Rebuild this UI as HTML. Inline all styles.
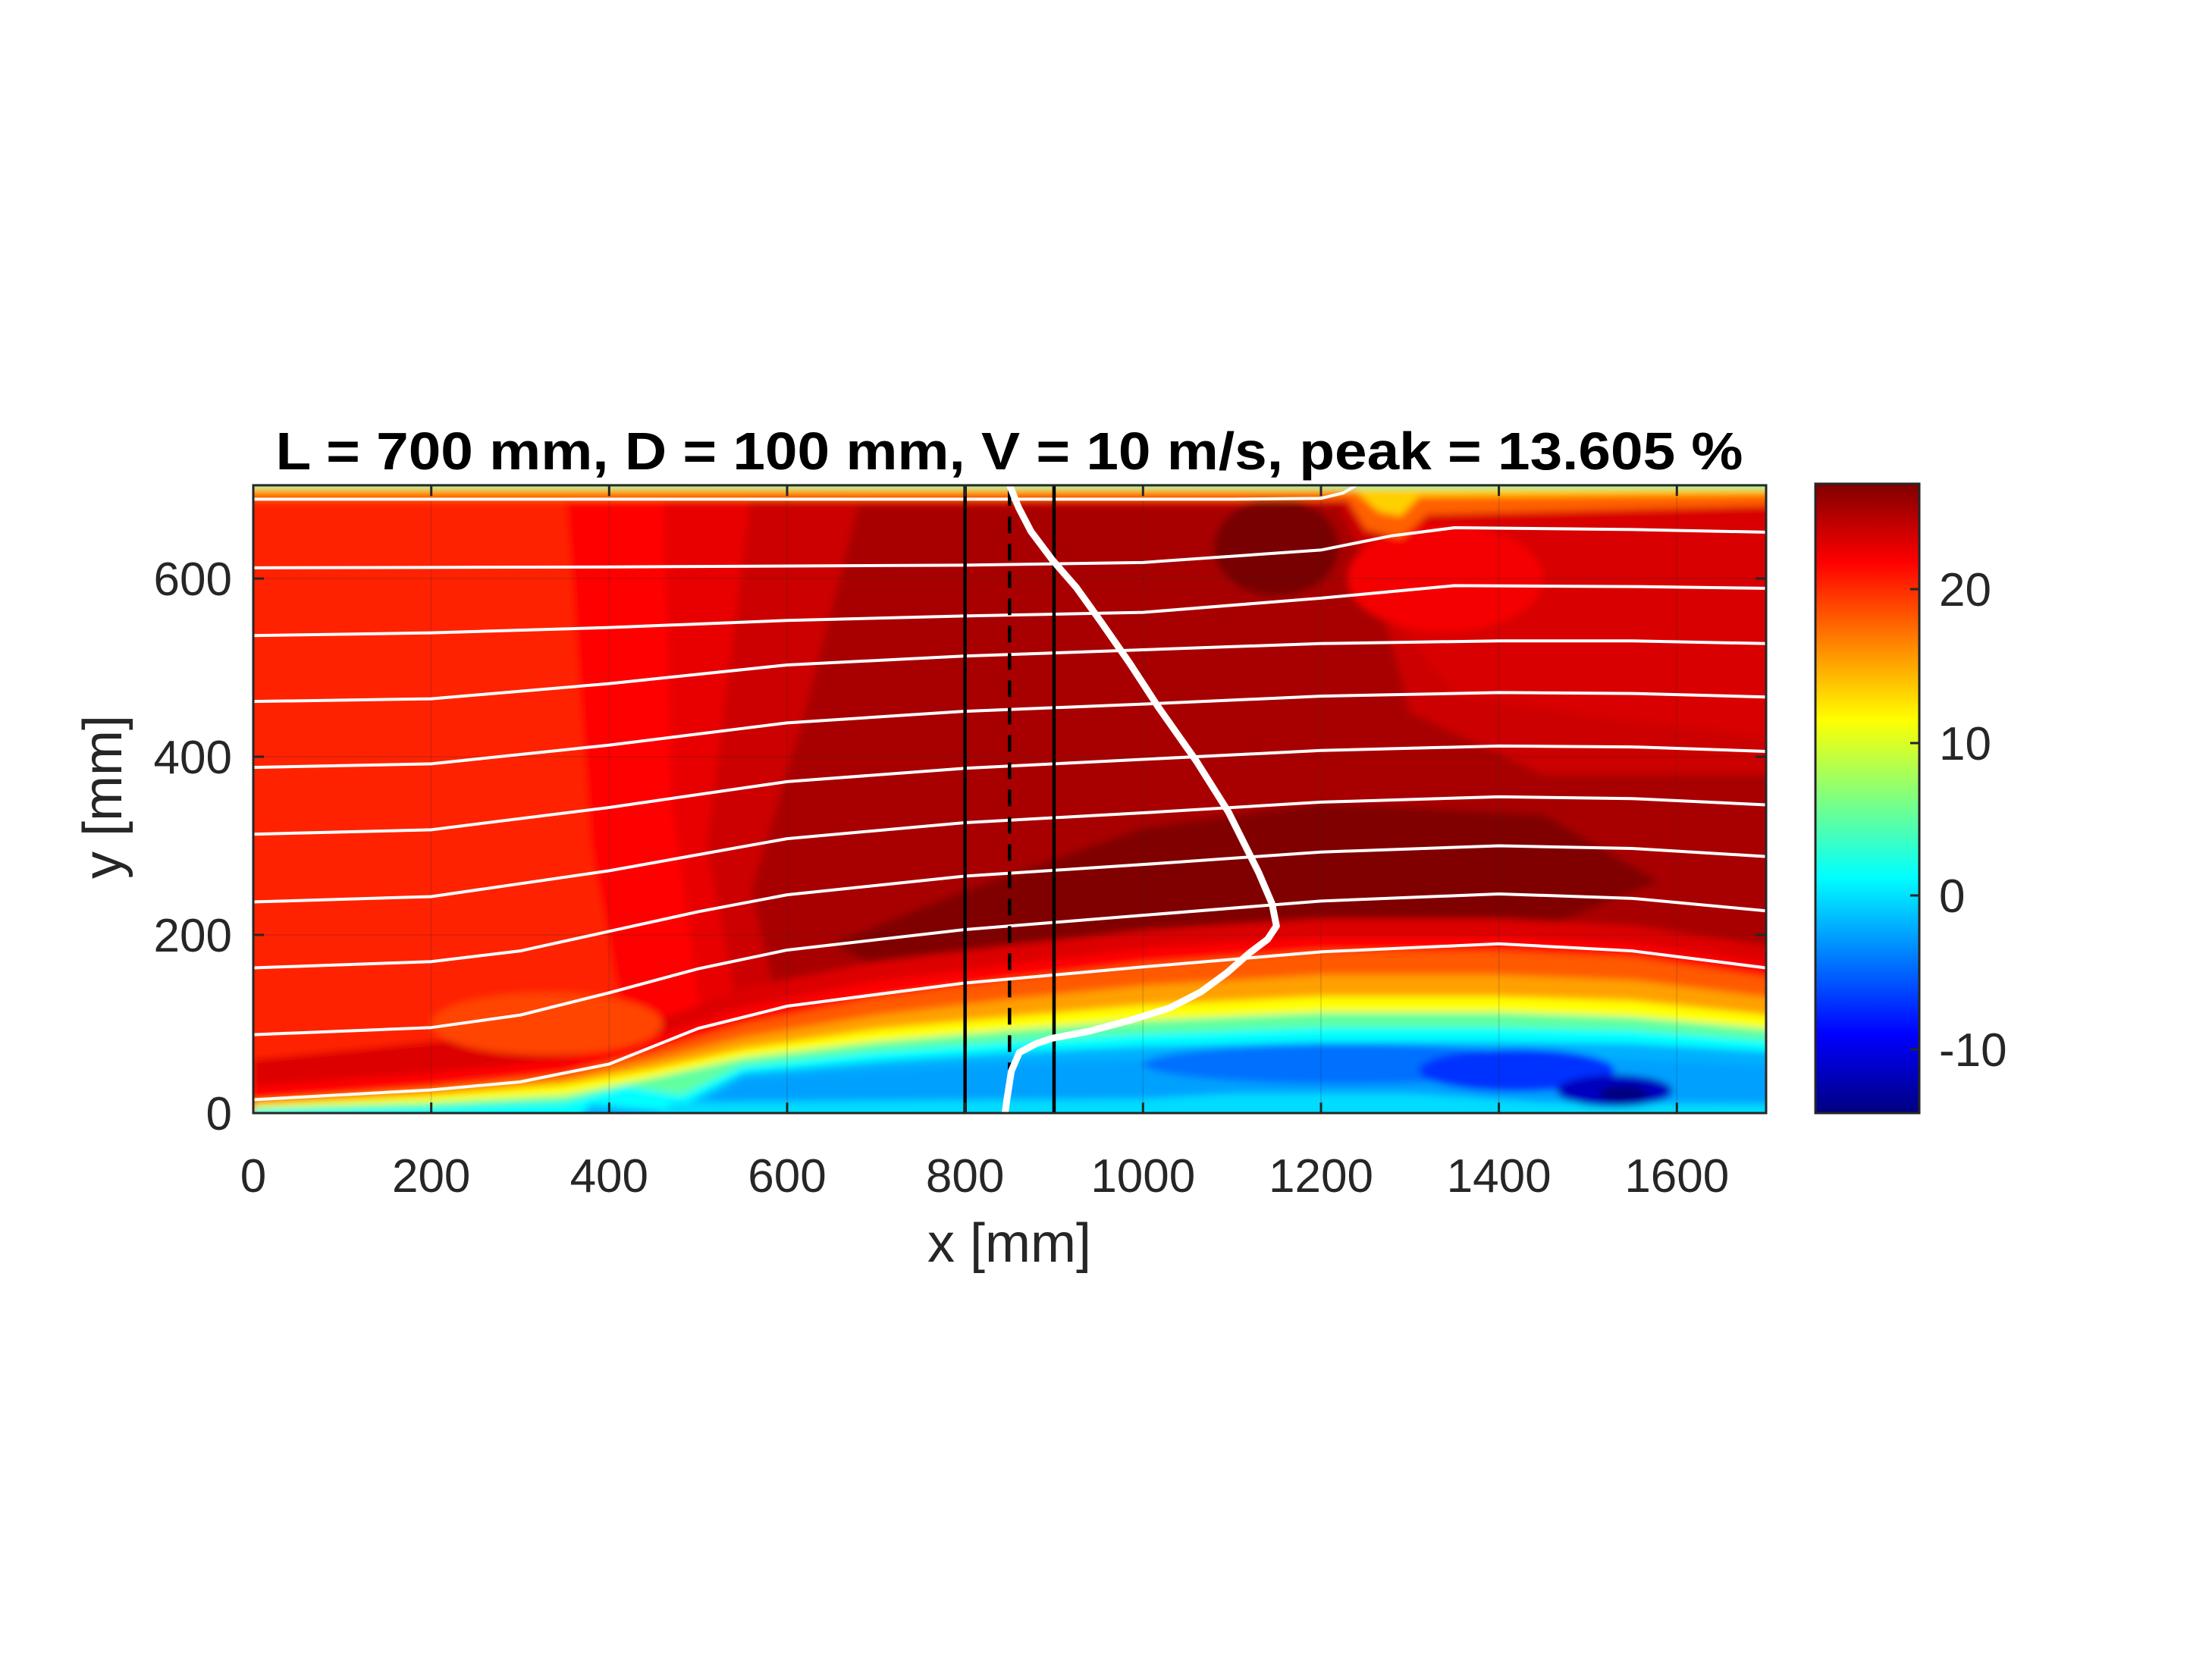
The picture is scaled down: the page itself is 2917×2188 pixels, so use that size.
<!DOCTYPE html>
<html><head><meta charset="utf-8"><style>
html,body{margin:0;padding:0;background:#fff;}
svg{display:block;}
text{font-family:"Liberation Sans",Arial,sans-serif;fill:#262626;}
</style></head><body>
<svg width="2917" height="2188" viewBox="0 0 2917 2188" xmlns="http://www.w3.org/2000/svg">
<defs>
<clipPath id="pc"><rect x="0" y="0" width="1700" height="705"/></clipPath>
<filter id="bl" x="-5%" y="-5%" width="110%" height="110%"><feGaussianBlur stdDeviation="4"/></filter>
<linearGradient id="jet" x1="0" y1="1" x2="0" y2="0">
<stop offset="0" stop-color="#000080"/>
<stop offset="0.125" stop-color="#0000ff"/>
<stop offset="0.375" stop-color="#00ffff"/>
<stop offset="0.625" stop-color="#ffff00"/>
<stop offset="0.875" stop-color="#ff0000"/>
<stop offset="1" stop-color="#800000"/>
</linearGradient>
</defs>
<rect width="2917" height="2188" fill="#fff"/>

<g transform="translate(334,1468) scale(1.1733,-1.175)">
<g clip-path="url(#pc)">
<g filter="url(#bl)">
<rect x="-20" y="-20" width="1740" height="745" fill="#ff2200"/>
<path d="M350,720 L1720,720 L1720,-20 L440,-20 L380,300 Z" fill="#ff0000"/>
<path d="M460,720 L1720,720 L1720,-20 L520,-20 L470,350 Z" fill="#e80000"/>
<path d="M560,700 L1720,700 L1720,-20 L570,-20 L510,300 Z" fill="#cc0000"/>
<path d="M680,682 L1220,682 L1260,600 L1300,450 L1450,380 L1720,380 L1720,-20 L620,-20 L560,250 L620,450 Z" fill="#a80000"/>
<path d="M1265,705 L1720,705 L1720,420 L1500,445 L1350,470 L1285,550 Z" fill="#d80000"/>
<ellipse cx="1340" cy="600" rx="110" ry="60" fill="#f40000"/>
<path d="M650,190 L800,250 L1000,320 L1200,348 L1450,335 L1580,260 L1460,212 L1200,198 L900,178 L700,165 Z" fill="#800000"/>
<ellipse cx="1150" cy="635" rx="70" ry="55" fill="#780000"/>
<path d="M0,-20 L0,60 L200,80 L350,95 L470,110 L550,140 L700,170 L850,188 L1000,205 L1200,218 L1400,218 L1550,210 L1720,185 L1720,-20 Z" fill="#dd0000"/>
<path d="M0,-20 L0,30 L200,45 L350,60 L450,85 L550,118 L700,148 L850,166 L1000,184 L1200,198 L1400,198 L1550,190 L1720,165 L1720,-20 Z" fill="#ff0000"/>
<ellipse cx="330" cy="100" rx="130" ry="35" fill="#ff4400"/>
<path d="M0,-20 L0,15 L200,30 L350,45 L450,70 L550,100 L700,130 L850,150 L1000,168 L1200,182 L1400,182 L1550,175 L1720,150 L1720,-20 Z" fill="#ff5a00"/>
<path d="M0,-20 L0,12 L200,25 L350,38 L450,60 L550,85 L700,110 L850,128 L1000,143 L1200,155 L1400,155 L1550,149 L1720,128 L1720,-20 Z" fill="#ffa000"/>
<path d="M0,-20 L0,10 L200,20 L350,32 L450,50 L550,72 L700,94 L850,108 L1000,121 L1200,131 L1400,131 L1550,126 L1720,108 L1720,-20 Z" fill="#ffff00"/>
<path d="M0,-20 L0,6 L200,12 L350,20 L450,40 L550,62 L700,80 L850,93 L1000,104 L1200,113 L1400,113 L1550,108 L1720,93 L1720,-20 Z" fill="#60ffa0"/>
<path d="M0,-20 L0,3 L200,6 L350,12 L420,30 L480,20 L550,53 L700,69 L850,80 L1000,89 L1200,96 L1400,96 L1550,93 L1720,80 L1720,-20 Z" fill="#00ffff"/>
<path d="M0,-20 L350,-20 L380,10 L420,6 L470,2 L550,45 L700,58 L850,68 L1000,75 L1200,80 L1400,80 L1550,78 L1720,68 L1720,-20 Z" fill="#00b0ff"/>
<path d="M450,-20 L500,8 L550,38 L700,48 L850,55 L1000,60 L1200,64 L1400,64 L1550,60 L1720,52 L1720,-20 Z" fill="#00a0ff"/>
<path d="M440,-20 L470,12 L700,14 L1000,16 L1100,22 L1300,22 L1450,12 L1720,10 L1720,-20 Z" fill="#00dcff"/>
<ellipse cx="1230" cy="55" rx="230" ry="22" fill="#0070ff"/>
<ellipse cx="1420" cy="48" rx="110" ry="24" fill="#0030ff"/>
<ellipse cx="1530" cy="25" rx="65" ry="18" fill="#0000c0"/>
<ellipse cx="1540" cy="22" rx="28" ry="9" fill="#000080"/>
<path d="M-20,688 L1230,688 L1250,655 L1290,645 L1320,672 L1720,682 L1720,720 L-20,720 Z" fill="#ff6000"/>
<path d="M-20,697 L1240,697 L1265,675 L1290,670 L1310,692 L1720,695 L1720,720 L-20,720 Z" fill="#ffd000"/>
<path d="M-20,703 L1720,702 L1720,720 L-20,720 Z" fill="#40ffc0"/>
</g>
<g stroke="#262626" stroke-opacity="0.15" stroke-width="2">
<line x1="200" y1="0" x2="200" y2="705" vector-effect="non-scaling-stroke"/>
<line x1="400" y1="0" x2="400" y2="705" vector-effect="non-scaling-stroke"/>
<line x1="600" y1="0" x2="600" y2="705" vector-effect="non-scaling-stroke"/>
<line x1="800" y1="0" x2="800" y2="705" vector-effect="non-scaling-stroke"/>
<line x1="1000" y1="0" x2="1000" y2="705" vector-effect="non-scaling-stroke"/>
<line x1="1200" y1="0" x2="1200" y2="705" vector-effect="non-scaling-stroke"/>
<line x1="1400" y1="0" x2="1400" y2="705" vector-effect="non-scaling-stroke"/>
<line x1="1600" y1="0" x2="1600" y2="705" vector-effect="non-scaling-stroke"/>
<line x1="0" y1="200" x2="1700" y2="200" vector-effect="non-scaling-stroke"/>
<line x1="0" y1="400" x2="1700" y2="400" vector-effect="non-scaling-stroke"/>
<line x1="0" y1="600" x2="1700" y2="600" vector-effect="non-scaling-stroke"/>
</g>
<g fill="none" stroke="#fff" stroke-width="4" stroke-linejoin="round">
<polyline vector-effect="non-scaling-stroke" points="0,15 200,26 300,35 400,55 500,95 600,120 800,146 1000,164 1200,181 1400,190 1550,182 1700,163"/>
<polyline vector-effect="non-scaling-stroke" points="0,88 200,96 300,110 400,135 500,162 600,183 800,206 1000,222 1200,238 1400,246 1550,241 1700,227"/>
<polyline vector-effect="non-scaling-stroke" points="0,163 200,170 300,182 400,204 500,226 600,245 800,266 1000,279 1200,293 1400,300 1550,297 1700,288"/>
<polyline vector-effect="non-scaling-stroke" points="0,237 200,243 400,272 600,308 800,326 1000,337 1200,349 1400,355 1550,353 1700,346"/>
<polyline vector-effect="non-scaling-stroke" points="0,313 200,318 400,343 600,372 800,387 1000,397 1200,407 1400,412 1550,411 1700,406"/>
<polyline vector-effect="non-scaling-stroke" points="0,388 200,392 400,413 600,438 800,451 1000,459 1200,468 1400,472 1550,471 1700,467"/>
<polyline vector-effect="non-scaling-stroke" points="0,462 200,465 400,482 600,503 800,513 1000,520 1200,527 1400,530 1550,530 1700,527"/>
<polyline vector-effect="non-scaling-stroke" points="0,536 200,539 400,545 600,553 800,558 1000,562 1200,578 1350,592 1550,591 1700,589"/>
<polyline vector-effect="non-scaling-stroke" points="0,612 400,613 800,615 1000,618 1200,632 1280,648 1350,657 1550,655 1700,652"/>
<polyline vector-effect="non-scaling-stroke" points="0,689 600,689 1100,689 1200,690 1225,696 1245,708"/>
</g>
<g stroke="#000" stroke-width="4.5" fill="none">
<line x1="800" y1="0" x2="800" y2="705" vector-effect="non-scaling-stroke"/>
<line x1="900" y1="0" x2="900" y2="705" vector-effect="non-scaling-stroke"/>
<line x1="850" y1="38" x2="850" y2="705" stroke-dasharray="22,14" vector-effect="non-scaling-stroke"/>
</g>
<polyline fill="none" stroke="#fff" stroke-width="9" stroke-linejoin="round" stroke-linecap="round" vector-effect="non-scaling-stroke"
 points="845,0 847,15 852,47 861,68 880,78 898,84 940,92 985,104 1030,118 1065,136 1095,158 1120,180 1140,195 1150,210 1145,235 1130,270 1096,338 1060,395 1017,456 985,505 953,551 925,590 898,621 874,653 860,680 850,705"/>
</g>
</g>

<rect x="334" y="640" width="1995" height="828" fill="none" stroke="#262626" stroke-width="3"/>
<g stroke="#262626" stroke-width="3">
<line x1="568.7" y1="1468" x2="568.7" y2="1454"/><line x1="803.3" y1="1468" x2="803.3" y2="1454"/>
<line x1="1038" y1="1468" x2="1038" y2="1454"/><line x1="1272.6" y1="1468" x2="1272.6" y2="1454"/>
<line x1="1507.3" y1="1468" x2="1507.3" y2="1454"/><line x1="1742" y1="1468" x2="1742" y2="1454"/>
<line x1="1976.6" y1="1468" x2="1976.6" y2="1454"/><line x1="2211.3" y1="1468" x2="2211.3" y2="1454"/>
<line x1="568.7" y1="640" x2="568.7" y2="654"/><line x1="803.3" y1="640" x2="803.3" y2="654"/>
<line x1="1038" y1="640" x2="1038" y2="654"/><line x1="1272.6" y1="640" x2="1272.6" y2="654"/>
<line x1="1507.3" y1="640" x2="1507.3" y2="654"/><line x1="1742" y1="640" x2="1742" y2="654"/>
<line x1="1976.6" y1="640" x2="1976.6" y2="654"/><line x1="2211.3" y1="640" x2="2211.3" y2="654"/>
<line x1="334" y1="1468" x2="348" y2="1468"/><line x1="334" y1="1233" x2="348" y2="1233"/>
<line x1="334" y1="998" x2="348" y2="998"/><line x1="334" y1="763" x2="348" y2="763"/>
<line x1="2329" y1="1233" x2="2315" y2="1233"/><line x1="2329" y1="998" x2="2315" y2="998"/>
<line x1="2329" y1="763" x2="2315" y2="763"/>
</g>

<g font-size="62" text-anchor="middle">
<text x="334" y="1572">0</text><text x="568.7" y="1572">200</text><text x="803.3" y="1572">400</text>
<text x="1038" y="1572">600</text><text x="1272.6" y="1572">800</text><text x="1507.3" y="1572">1000</text>
<text x="1742" y="1572">1200</text><text x="1976.6" y="1572">1400</text><text x="2211.3" y="1572">1600</text>
</g>
<g font-size="62" text-anchor="end">
<text x="306" y="1490">0</text><text x="306" y="1255">200</text><text x="306" y="1020">400</text><text x="306" y="785">600</text>
</g>
<text x="1331" y="1664" font-size="72" text-anchor="middle">x [mm]</text>
<text transform="translate(160,1051) rotate(-90)" font-size="72" text-anchor="middle">y [mm]</text>
<text x="1331" y="619" font-size="70" font-weight="bold" text-anchor="middle" style="fill:#000" textLength="1935" lengthAdjust="spacingAndGlyphs">L = 700 mm, D = 100 mm, V = 10 m/s, peak = 13.605 %</text>

<rect x="2394" y="638" width="137" height="830" fill="url(#jet)"/>
<rect x="2394" y="638" width="137" height="830" fill="none" stroke="#262626" stroke-width="3"/>
<g stroke="#262626" stroke-width="3">
<line x1="2531" y1="777" x2="2519" y2="777"/><line x1="2531" y1="980" x2="2519" y2="980"/>
<line x1="2531" y1="1181" x2="2519" y2="1181"/><line x1="2531" y1="1384" x2="2519" y2="1384"/>
</g>
<g font-size="62">
<text x="2557" y="799">20</text><text x="2557" y="1002">10</text><text x="2557" y="1203">0</text><text x="2557" y="1406">-10</text>
</g>
</svg>
</body></html>
